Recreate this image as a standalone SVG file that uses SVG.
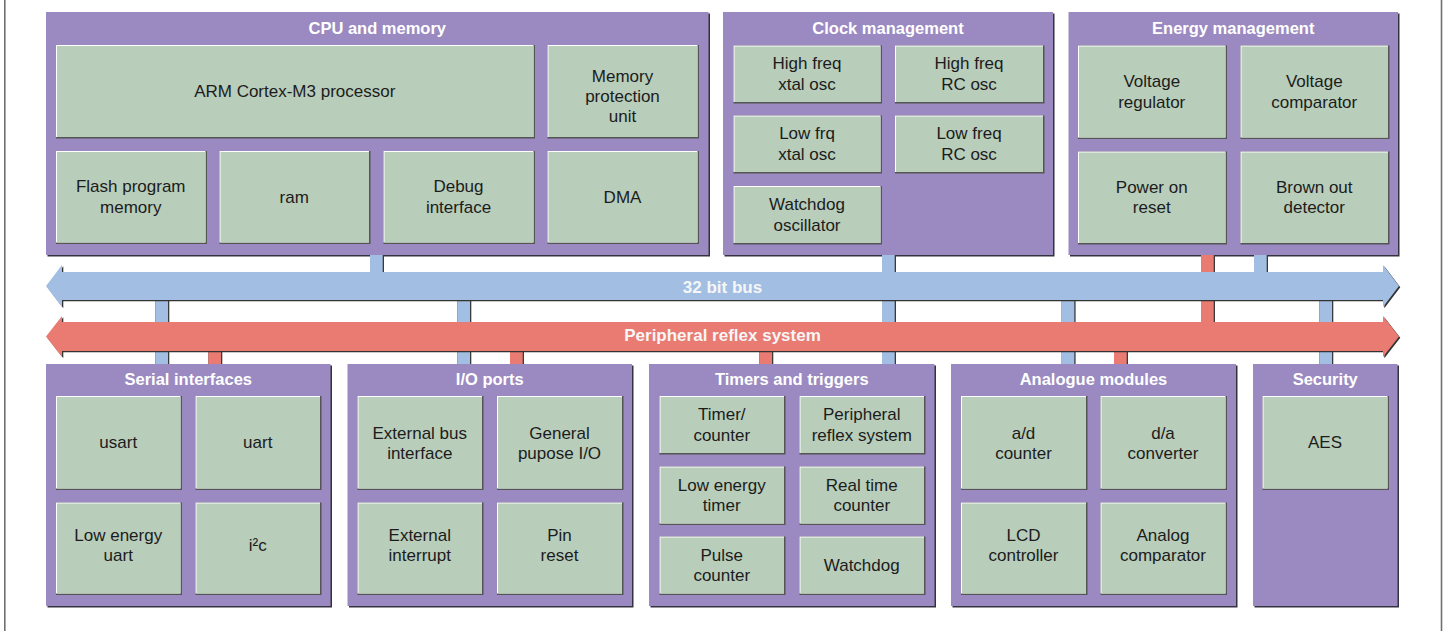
<svg xmlns="http://www.w3.org/2000/svg" width="1445" height="631" viewBox="0 0 1445 631">
<style>
.ks{fill:#34323f}
.k{fill:#9a8ac1}
.bs{fill:#555555}
.bh{fill:#ffffff}
.bf{fill:#b8cdba}
.t{font-family:"Liberation Sans",Arial,sans-serif;font-weight:bold;font-size:16.5px;fill:#ffffff;text-anchor:middle}
.l{font-family:"Liberation Sans",Arial,sans-serif;font-size:17px;fill:#1c1c1c;text-anchor:middle}
.bt{font-family:"Liberation Sans",Arial,sans-serif;font-weight:bold;font-size:17px;fill:#f6f6f6;text-anchor:middle}
.cs{fill:#3a3a3a}
.cb{fill:#a2bee2}
.cr{fill:#e97b73}
.frame{stroke:#707070;stroke-width:1.6}
</style>
<rect x="0" y="0" width="1445" height="631" fill="#ffffff"/>
<line class="frame" x1="4.8" y1="0" x2="4.8" y2="631"/>
<line class="frame" x1="1441.5" y1="0" x2="1441.5" y2="631"/>

<!-- CPU and memory -->
<g id="cpu">
<rect class="ks" x="47.5" y="13.5" width="662.5" height="243"/>
<rect class="k" x="46" y="12" width="662.5" height="243"/>
<text class="t" x="377.25" y="33.5">CPU and memory</text>
<g id="arm"><rect class="bs" x="56" y="45" width="479" height="93.5"/><rect class="bh" x="56" y="45" width="477.5" height="92"/><rect class="bf" x="57" y="46" width="476.5" height="91"/><text class="l" x="294.75" y="97">ARM Cortex-M3 processor</text></g>
<g id="mpu"><rect class="bs" x="547.5" y="45" width="151.5" height="93.5"/><rect class="bh" x="547.5" y="45" width="150" height="92"/><rect class="bf" x="548.5" y="46" width="149" height="91"/><text class="l" x="622.5" y="81.5">Memory<tspan x="622.5" dy="20">protection</tspan><tspan x="622.5" dy="20">unit</tspan></text></g>
<g id="flash"><rect class="bs" x="56" y="151" width="151" height="93"/><rect class="bh" x="56" y="151" width="149.5" height="91.5"/><rect class="bf" x="57" y="152" width="148.5" height="90.5"/><text class="l" x="130.75" y="192.25">Flash program<tspan x="130.75" dy="20.5">memory</tspan></text></g>
<g id="ram"><rect class="bs" x="219.5" y="151" width="151" height="93"/><rect class="bh" x="219.5" y="151" width="149.5" height="91.5"/><rect class="bf" x="220.5" y="152" width="148.5" height="90.5"/><text class="l" x="294.25" y="203">ram</text></g>
<g id="debug"><rect class="bs" x="383.5" y="151" width="151.5" height="93"/><rect class="bh" x="383.5" y="151" width="150" height="91.5"/><rect class="bf" x="384.5" y="152" width="149" height="90.5"/><text class="l" x="458.5" y="192.25">Debug<tspan x="458.5" dy="20.5">interface</tspan></text></g>
<g id="dma"><rect class="bs" x="547.5" y="151" width="151.5" height="93"/><rect class="bh" x="547.5" y="151" width="150" height="91.5"/><rect class="bf" x="548.5" y="152" width="149" height="90.5"/><text class="l" x="622.5" y="203">DMA</text></g>
</g>

<!-- Clock management -->
<g id="clock">
<rect class="ks" x="724.5" y="13.5" width="330" height="243"/>
<rect class="k" x="723" y="12" width="330" height="243"/>
<text class="t" x="888" y="33.5">Clock management</text>
<g id="hfxo"><rect class="bs" x="733.5" y="45.5" width="148.5" height="58"/><rect class="bh" x="733.5" y="45.5" width="147" height="56.5"/><rect class="bf" x="734.5" y="46.5" width="146" height="55.5"/><text class="l" x="807" y="69.25">High freq<tspan x="807" dy="20.5">xtal osc</tspan></text></g>
<g id="hfrco"><rect class="bs" x="895" y="45.5" width="149.5" height="58"/><rect class="bh" x="895" y="45.5" width="148" height="56.5"/><rect class="bf" x="896" y="46.5" width="147" height="55.5"/><text class="l" x="969" y="69.25">High freq<tspan x="969" dy="20.5">RC osc</tspan></text></g>
<g id="lfxo"><rect class="bs" x="733.5" y="115.5" width="148.5" height="58"/><rect class="bh" x="733.5" y="115.5" width="147" height="56.5"/><rect class="bf" x="734.5" y="116.5" width="146" height="55.5"/><text class="l" x="807" y="139.25">Low frq<tspan x="807" dy="20.5">xtal osc</tspan></text></g>
<g id="lfrco"><rect class="bs" x="895" y="115.5" width="149.5" height="58"/><rect class="bh" x="895" y="115.5" width="148" height="56.5"/><rect class="bf" x="896" y="116.5" width="147" height="55.5"/><text class="l" x="969" y="139.25">Low freq<tspan x="969" dy="20.5">RC osc</tspan></text></g>
<g id="wdosc"><rect class="bs" x="733.5" y="186" width="148.5" height="58.5"/><rect class="bh" x="733.5" y="186" width="147" height="57"/><rect class="bf" x="734.5" y="187" width="146" height="56"/><text class="l" x="807" y="210">Watchdog<tspan x="807" dy="20.5">oscillator</tspan></text></g>
</g>

<!-- Energy management -->
<g id="energy">
<rect class="ks" x="1070" y="13.5" width="329.5" height="243"/>
<rect class="k" x="1068.5" y="12" width="329.5" height="243"/>
<text class="t" x="1233.25" y="33.5">Energy management</text>
<g id="vreg"><rect class="bs" x="1078" y="45.5" width="149" height="93.5"/><rect class="bh" x="1078" y="45.5" width="147.5" height="92"/><rect class="bf" x="1079" y="46.5" width="146.5" height="91"/><text class="l" x="1151.75" y="87">Voltage<tspan x="1151.75" dy="20.5">regulator</tspan></text></g>
<g id="vcmp"><rect class="bs" x="1240.5" y="45.5" width="149" height="93.5"/><rect class="bh" x="1240.5" y="45.5" width="147.5" height="92"/><rect class="bf" x="1241.5" y="46.5" width="146.5" height="91"/><text class="l" x="1314.25" y="87">Voltage<tspan x="1314.25" dy="20.5">comparator</tspan></text></g>
<g id="por"><rect class="bs" x="1078" y="151.5" width="149" height="93"/><rect class="bh" x="1078" y="151.5" width="147.5" height="91.5"/><rect class="bf" x="1079" y="152.5" width="146.5" height="90.5"/><text class="l" x="1151.75" y="192.75">Power on<tspan x="1151.75" dy="20.5">reset</tspan></text></g>
<g id="bod"><rect class="bs" x="1240.5" y="151.5" width="149" height="93"/><rect class="bh" x="1240.5" y="151.5" width="147.5" height="91.5"/><rect class="bf" x="1241.5" y="152.5" width="146.5" height="90.5"/><text class="l" x="1314.25" y="192.75">Brown out<tspan x="1314.25" dy="20.5">detector</tspan></text></g>
</g>

<!-- Serial interfaces -->
<g id="serial">
<rect class="ks" x="47.5" y="365.5" width="284.5" height="242"/>
<rect class="k" x="46" y="364" width="284.5" height="242"/>
<text class="t" x="188.25" y="385">Serial interfaces</text>
<g id="usart"><rect class="bs" x="56" y="396" width="126" height="94"/><rect class="bh" x="56" y="396" width="124.5" height="92.5"/><rect class="bf" x="57" y="397" width="123.5" height="91.5"/><text class="l" x="118.25" y="448">usart</text></g>
<g id="uart"><rect class="bs" x="195.5" y="396" width="126" height="94"/><rect class="bh" x="195.5" y="396" width="124.5" height="92.5"/><rect class="bf" x="196.5" y="397" width="123.5" height="91.5"/><text class="l" x="257.75" y="448">uart</text></g>
<g id="leuart"><rect class="bs" x="56" y="502.5" width="126" height="92.5"/><rect class="bh" x="56" y="502.5" width="124.5" height="91"/><rect class="bf" x="57" y="503.5" width="123.5" height="90"/><text class="l" x="118.25" y="540.5">Low energy<tspan x="118.25" dy="20.5">uart</tspan></text></g>
<g id="i2c"><rect class="bs" x="195.5" y="502.5" width="126" height="92.5"/><rect class="bh" x="195.5" y="502.5" width="124.5" height="91"/><rect class="bf" x="196.5" y="503.5" width="123.5" height="90"/><text class="l" x="257.75" y="551">i²c</text></g>
</g>

<!-- I/O ports -->
<g id="io">
<rect class="ks" x="349" y="365.5" width="284.5" height="242"/>
<rect class="k" x="347.5" y="364" width="284.5" height="242"/>
<text class="t" x="489.75" y="385">I/O ports</text>
<g id="ebi"><rect class="bs" x="357.5" y="396" width="126" height="94"/><rect class="bh" x="357.5" y="396" width="124.5" height="92.5"/><rect class="bf" x="358.5" y="397" width="123.5" height="91.5"/><text class="l" x="419.75" y="438.5">External bus<tspan x="419.75" dy="20.5">interface</tspan></text></g>
<g id="gpio"><rect class="bs" x="497" y="396" width="126.5" height="94"/><rect class="bh" x="497" y="396" width="125" height="92.5"/><rect class="bf" x="498" y="397" width="124" height="91.5"/><text class="l" x="559.5" y="438.5">General<tspan x="559.5" dy="20.5">pupose I/O</tspan></text></g>
<g id="eint"><rect class="bs" x="357.5" y="502.5" width="126" height="92.5"/><rect class="bh" x="357.5" y="502.5" width="124.5" height="91"/><rect class="bf" x="358.5" y="503.5" width="123.5" height="90"/><text class="l" x="419.75" y="540.5">External<tspan x="419.75" dy="20.5">interrupt</tspan></text></g>
<g id="pinreset"><rect class="bs" x="497" y="502.5" width="126.5" height="92.5"/><rect class="bh" x="497" y="502.5" width="125" height="91"/><rect class="bf" x="498" y="503.5" width="124" height="90"/><text class="l" x="559.5" y="540.5">Pin<tspan x="559.5" dy="20.5">reset</tspan></text></g>
</g>

<!-- Timers and triggers -->
<g id="timers">
<rect class="ks" x="650.5" y="365.5" width="285.5" height="242"/>
<rect class="k" x="649" y="364" width="285.5" height="242"/>
<text class="t" x="791.75" y="385">Timers and triggers</text>
<g id="timer"><rect class="bs" x="659.5" y="396" width="126" height="58.5"/><rect class="bh" x="659.5" y="396" width="124.5" height="57"/><rect class="bf" x="660.5" y="397" width="123.5" height="56"/><text class="l" x="721.75" y="420">Timer/<tspan x="721.75" dy="20.5">counter</tspan></text></g>
<g id="prs"><rect class="bs" x="799.5" y="396" width="126" height="58.5"/><rect class="bh" x="799.5" y="396" width="124.5" height="57"/><rect class="bf" x="800.5" y="397" width="123.5" height="56"/><text class="l" x="861.75" y="420">Peripheral<tspan x="861.75" dy="20.5">reflex system</tspan></text></g>
<g id="letimer"><rect class="bs" x="659.5" y="466.5" width="126" height="58.5"/><rect class="bh" x="659.5" y="466.5" width="124.5" height="57"/><rect class="bf" x="660.5" y="467.5" width="123.5" height="56"/><text class="l" x="721.75" y="490.5">Low energy<tspan x="721.75" dy="20.5">timer</tspan></text></g>
<g id="rtc"><rect class="bs" x="799.5" y="466.5" width="126" height="58.5"/><rect class="bh" x="799.5" y="466.5" width="124.5" height="57"/><rect class="bf" x="800.5" y="467.5" width="123.5" height="56"/><text class="l" x="861.75" y="490.5">Real time<tspan x="861.75" dy="20.5">counter</tspan></text></g>
<g id="pcnt"><rect class="bs" x="659.5" y="536.5" width="126" height="58.5"/><rect class="bh" x="659.5" y="536.5" width="124.5" height="57"/><rect class="bf" x="660.5" y="537.5" width="123.5" height="56"/><text class="l" x="721.75" y="560.5">Pulse<tspan x="721.75" dy="20.5">counter</tspan></text></g>
<g id="wdog"><rect class="bs" x="799.5" y="536.5" width="126" height="58.5"/><rect class="bh" x="799.5" y="536.5" width="124.5" height="57"/><rect class="bf" x="800.5" y="537.5" width="123.5" height="56"/><text class="l" x="861.75" y="570.5">Watchdog</text></g>
</g>

<!-- Analogue modules -->
<g id="analogue">
<rect class="ks" x="952.5" y="365.5" width="285" height="242"/>
<rect class="k" x="951" y="364" width="285" height="242"/>
<text class="t" x="1093.5" y="385">Analogue modules</text>
<g id="adc"><rect class="bs" x="961" y="396" width="126.5" height="94"/><rect class="bh" x="961" y="396" width="125" height="92.5"/><rect class="bf" x="962" y="397" width="124" height="91.5"/><text class="l" x="1023.5" y="438.5">a/d<tspan x="1023.5" dy="20.5">counter</tspan></text></g>
<g id="dac"><rect class="bs" x="1100.5" y="396" width="126.5" height="94"/><rect class="bh" x="1100.5" y="396" width="125" height="92.5"/><rect class="bf" x="1101.5" y="397" width="124" height="91.5"/><text class="l" x="1163" y="438.5">d/a<tspan x="1163" dy="20.5">converter</tspan></text></g>
<g id="lcd"><rect class="bs" x="961" y="502.5" width="126.5" height="92.5"/><rect class="bh" x="961" y="502.5" width="125" height="91"/><rect class="bf" x="962" y="503.5" width="124" height="90"/><text class="l" x="1023.5" y="540.5">LCD<tspan x="1023.5" dy="20.5">controller</tspan></text></g>
<g id="acmp"><rect class="bs" x="1100.5" y="502.5" width="126.5" height="92.5"/><rect class="bh" x="1100.5" y="502.5" width="125" height="91"/><rect class="bf" x="1101.5" y="503.5" width="124" height="90"/><text class="l" x="1163" y="540.5">Analog<tspan x="1163" dy="20.5">comparator</tspan></text></g>
</g>

<!-- Security -->
<g id="security">
<rect class="ks" x="1254.5" y="365.5" width="144.5" height="242"/>
<rect class="k" x="1253" y="364" width="144.5" height="242"/>
<text class="t" x="1325.25" y="385">Security</text>
<g id="aes"><rect class="bs" x="1262.5" y="396" width="126.5" height="94"/><rect class="bh" x="1262.5" y="396" width="125" height="92.5"/><rect class="bf" x="1263.5" y="397" width="124" height="91.5"/><text class="l" x="1325" y="448">AES</text></g>
</g>

<!-- connectors -->
<g id="connectors">
<rect class="cs" x="370" y="255" width="14" height="31"/><rect class="cb" x="370" y="255" width="12.7" height="31"/>
<rect class="cs" x="155.3" y="286" width="14" height="78"/><rect class="cb" x="155.3" y="286" width="12.7" height="78"/>
<rect class="cs" x="457.3" y="286" width="14" height="78"/><rect class="cb" x="457.3" y="286" width="12.7" height="78"/>
<rect class="cs" x="882" y="255" width="14" height="109"/><rect class="cb" x="882" y="255" width="12.7" height="109"/>
<rect class="cs" x="1061.6" y="286" width="14" height="78"/><rect class="cb" x="1061.6" y="286" width="12.7" height="78"/>
<rect class="cs" x="1254" y="255" width="14" height="31"/><rect class="cb" x="1254" y="255" width="12.7" height="31"/>
<rect class="cs" x="1319.3" y="286" width="14" height="78"/><rect class="cb" x="1319.3" y="286" width="12.7" height="78"/>
<rect class="cs" x="208.3" y="336" width="14" height="28"/><rect class="cr" x="208.3" y="336" width="12.7" height="28"/>
<rect class="cs" x="510" y="336" width="14" height="28"/><rect class="cr" x="510" y="336" width="12.7" height="28"/>
<rect class="cs" x="759.3" y="336" width="14" height="28"/><rect class="cr" x="759.3" y="336" width="12.7" height="28"/>
<rect class="cs" x="1114" y="336" width="14" height="28"/><rect class="cr" x="1114" y="336" width="12.7" height="28"/>
<rect class="cs" x="1201" y="255" width="14" height="81"/><rect class="cr" x="1201" y="255" width="12.7" height="81"/>
</g>

<!-- 32 bit bus -->
<g id="bus32">
<path fill="#333333" transform="translate(1.3,1.3)" d="M46,286 L62,265 L62,272 L1383,272 L1383,265 L1399,286 L1383,307 L1383,300 L62,300 L62,307 Z"/>
<path fill="#a2bee2" d="M46,286 L62,265 L62,272 L1383,272 L1383,265 L1399,286 L1383,307 L1383,300 L62,300 L62,307 Z"/>
<text class="bt" x="722.5" y="292.5">32 bit bus</text>
</g>

<!-- Peripheral reflex system bus -->
<g id="prsbus">
<path fill="#333333" transform="translate(1.3,1.3)" d="M46,336.5 L62,316 L62,322 L1383,322 L1383,316 L1399,336.5 L1383,357 L1383,351 L62,351 L62,357 Z"/>
<path fill="#e97b73" d="M46,336.5 L62,316 L62,322 L1383,322 L1383,316 L1399,336.5 L1383,357 L1383,351 L62,351 L62,357 Z"/>
<text class="bt" x="722.5" y="341">Peripheral reflex system</text>
</g>
</svg>
